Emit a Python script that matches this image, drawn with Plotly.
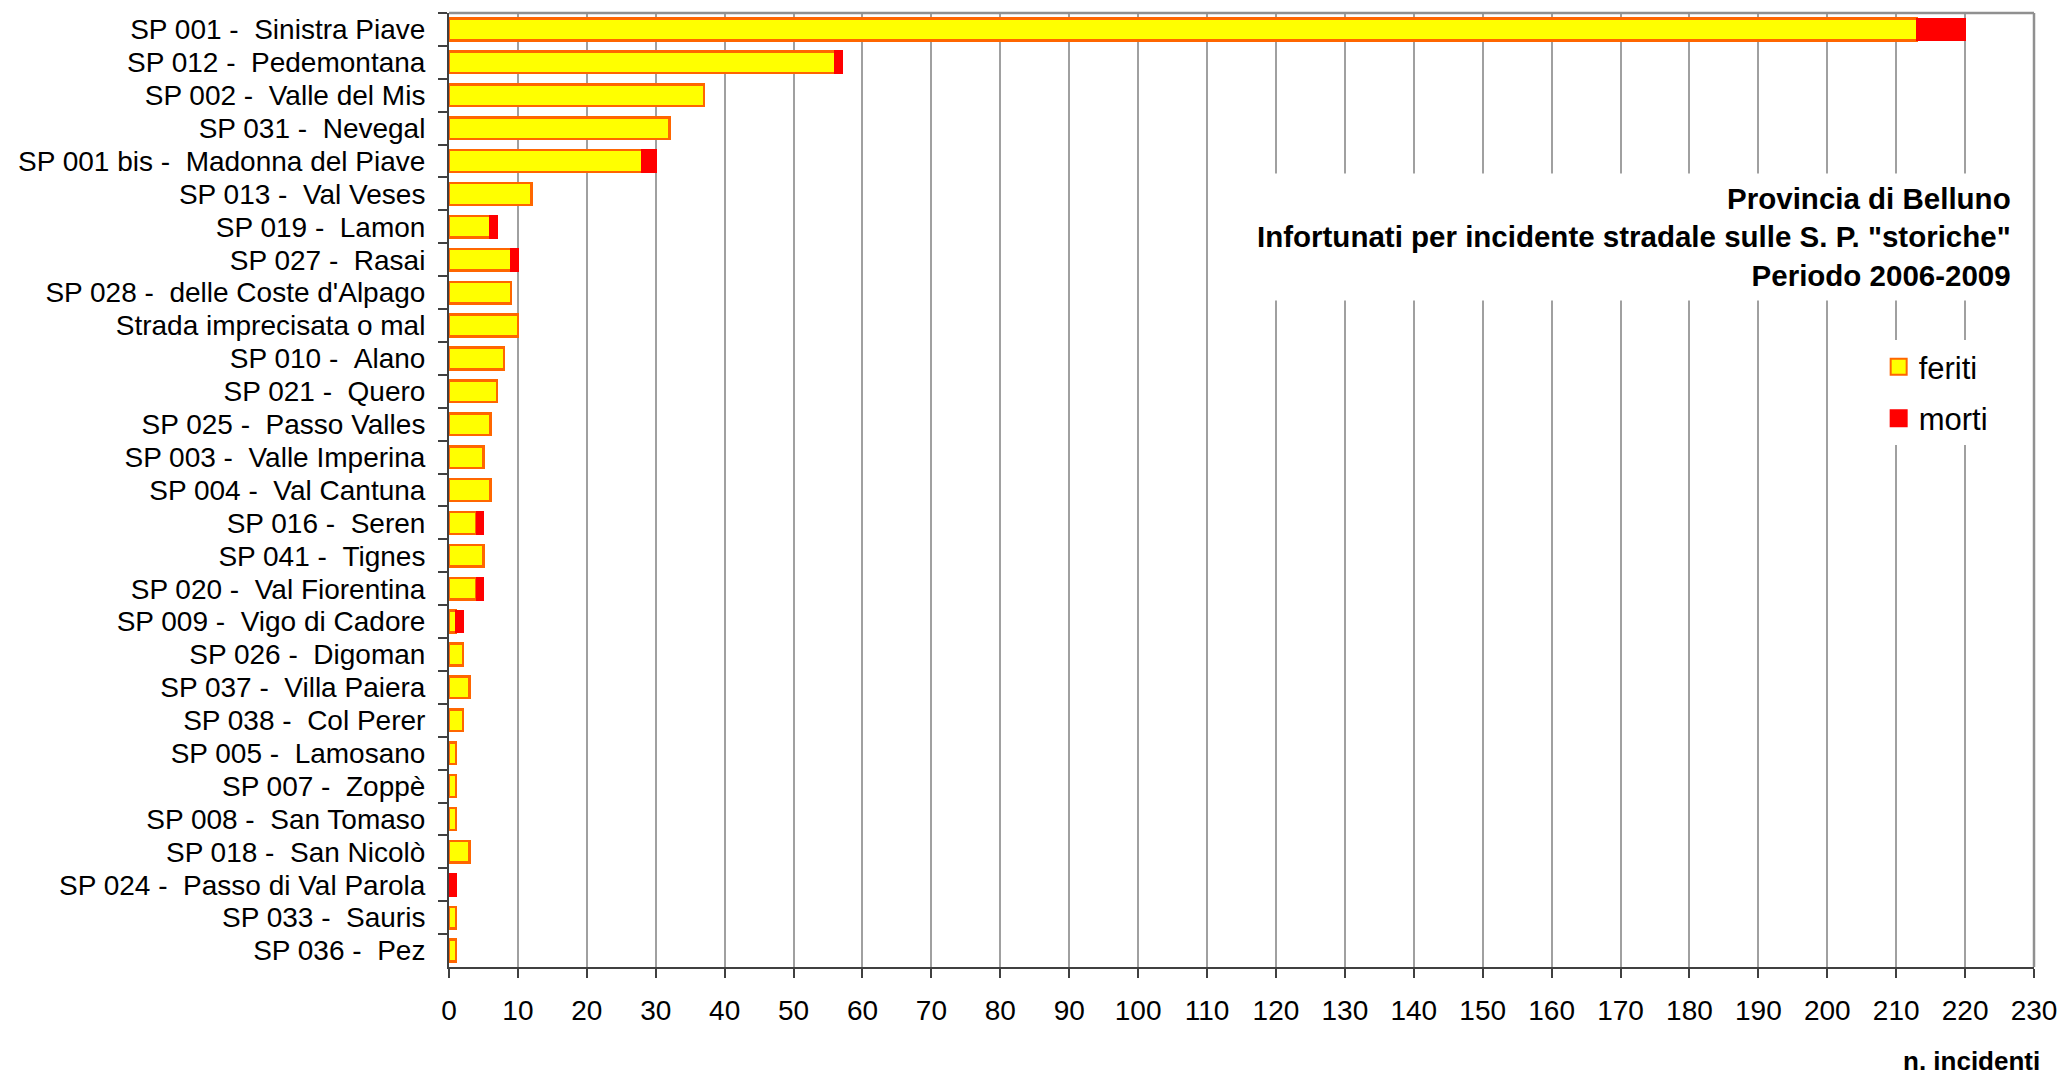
import plotly.graph_objects as go

categories = [
    "SP 001 -  Sinistra Piave",
    "SP 012 -  Pedemontana",
    "SP 002 -  Valle del Mis",
    "SP 031 -  Nevegal",
    "SP 001 bis -  Madonna del Piave",
    "SP 013 -  Val Veses",
    "SP 019 -  Lamon",
    "SP 027 -  Rasai",
    "SP 028 -  delle Coste d'Alpago",
    "Strada imprecisata o mal",
    "SP 010 -  Alano",
    "SP 021 -  Quero",
    "SP 025 -  Passo Valles",
    "SP 003 -  Valle Imperina",
    "SP 004 -  Val Cantuna",
    "SP 016 -  Seren",
    "SP 041 -  Tignes",
    "SP 020 -  Val Fiorentina",
    "SP 009 -  Vigo di Cadore",
    "SP 026 -  Digoman",
    "SP 037 -  Villa Paiera",
    "SP 038 -  Col Perer",
    "SP 005 -  Lamosano",
    "SP 007 -  Zoppè",
    "SP 008 -  San Tomaso",
    "SP 018 -  San Nicolò",
    "SP 024 -  Passo di Val Parola",
    "SP 033 -  Sauris",
    "SP 036 -  Pez",
]
feriti = [213, 56, 37, 32, 28, 12, 6, 9, 9, 10, 8, 7, 6, 5, 6, 4, 5, 4, 1, 2, 3, 2, 1, 1, 1, 3, 0, 1, 1]
morti = [7, 1, 0, 0, 2, 0, 1, 1, 0, 0, 0, 0, 0, 0, 0, 1, 0, 1, 1, 0, 0, 0, 0, 0, 0, 0, 1, 0, 0]
x_ticks = list(range(0, 231, 10))

title_lines = ["Provincia di Belluno",
               "Infortunati per incidente stradale sulle S. P. \"storiche\"",
               "Periodo 2006-2009"]
x_title = "n. incidenti"

labels = [c.replace("  ", " \u00a0") for c in categories]

FONT = "Liberation Sans, Arial, sans-serif"

fig = go.Figure()
fig.add_trace(go.Bar(
    y=labels, x=[v if v > 0 else None for v in feriti], name="feriti", orientation="h",
    marker=dict(color="#FFFF00", line=dict(color="#FF6600", width=2.5)),
    width=0.66, showlegend=False, hoverinfo="skip",
))
fig.add_trace(go.Bar(
    y=labels, x=[v if v > 0 else None for v in morti], name="morti", orientation="h",
    marker=dict(color="#FF0000", line=dict(color="#FF0000", width=2)),
    width=0.66, showlegend=False, hoverinfo="skip",
))
# legend entries
fig.add_trace(go.Scatter(
    x=[None], y=[None], mode="markers", name="feriti", legendgroup="f",
    marker=dict(symbol="square", size=24, color="#FFFF00", line=dict(color="#FF6600", width=2)),
))
fig.add_trace(go.Scatter(
    x=[None], y=[None], mode="markers", name="morti", legendgroup="m",
    marker=dict(symbol="square", size=24, color="#FF0000", line=dict(color="#FF0000", width=2)),
))

fig.update_layout(
    width=2065, height=1073,
    margin=dict(l=441, r=39, t=5, b=114),
    barmode="stack",
    plot_bgcolor="white", paper_bgcolor="white",
    font=dict(family=FONT, size=28, color="black"),
    showlegend=True,
    legend=dict(
        x=0.902, y=0.657, xanchor="left", yanchor="top",
        bgcolor="white", font=dict(size=31, family=FONT),
        traceorder="grouped", tracegroupgap=8, itemsizing="trace",
    ),
)
fig.update_xaxes(
    range=[0, 230], tickvals=x_ticks, ticktext=[str(t) for t in x_ticks],
    showgrid=True, gridcolor="#A0A0A0", gridwidth=1.5,
    showline=True, linecolor="#404040", linewidth=2,
    ticks="outside", ticklen=9, tickcolor="#404040", tickwidth=2,
    ticklabelstandoff=8, tickfont=dict(size=28),
    zeroline=False, fixedrange=True, automargin=False,
)
fig.update_yaxes(
    type="category", categoryorder="array", categoryarray=labels,
    autorange="reversed", tickmode="linear", tick0=0, dtick=1,
    showgrid=False, showline=True, linecolor="#404040", linewidth=2,
    ticks="outside", ticklen=9, tickcolor="#404040", tickwidth=2,
    tickson="boundaries", ticklabelstandoff=16, tickfont=dict(size=28),
    fixedrange=True, automargin=False,
)
# frame top/right in gray
fig.add_shape(type="line", xref="paper", yref="paper", x0=0, x1=1, y0=1, y1=1,
              line=dict(color="#909090", width=2.5), layer="above")
fig.add_shape(type="line", xref="paper", yref="paper", x0=1, x1=1, y0=0, y1=1,
              line=dict(color="#909090", width=2.5), layer="above")

fig.add_annotation(
    xref="paper", yref="paper", x=0.991, y=0.765, xanchor="right", yanchor="middle",
    text="<b>" + "<br>".join(title_lines) + "</b>", align="right", showarrow=False,
    font=dict(size=29.5, family=FONT), bgcolor="white", borderpad=8,
)
fig.add_annotation(
    xref="paper", yref="paper", x=1.005, y=-0.0985, xanchor="right", yanchor="middle",
    text="<b>" + x_title + "</b>", showarrow=False, font=dict(size=26, family=FONT),
)

fig.write_html("out.html")
